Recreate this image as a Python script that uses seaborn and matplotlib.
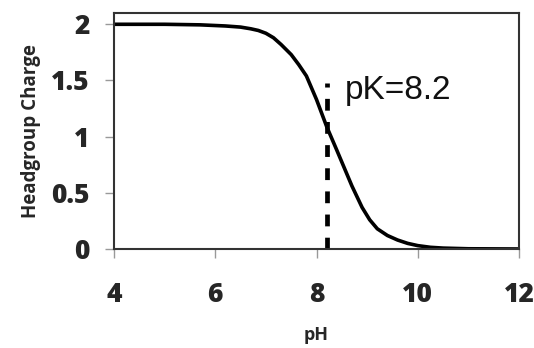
import matplotlib
matplotlib.use("Agg")
import matplotlib.pyplot as plt
import seaborn as sns
import pandas as pd

# titration curve
ph = [4.0, 5.0, 5.7, 6.2, 6.5, 6.7, 6.85, 7.0, 7.15, 7.3, 7.5, 7.65, 7.8,
      8.0, 8.2, 8.4, 8.55, 8.7, 8.9, 9.05, 9.2, 9.4, 9.6, 9.8, 10.0, 10.25,
      10.5, 11.0, 12.0]
charge = [2.0, 2.0, 1.995, 1.985, 1.975, 1.96, 1.945, 1.92, 1.88, 1.82,
          1.73, 1.64, 1.54, 1.33, 1.09, 0.88, 0.72, 0.56, 0.37, 0.26, 0.18,
          0.12, 0.08, 0.05, 0.03, 0.015, 0.008, 0.002, 0.0]
pk = 8.2
pk_line_top = 1.48
pk_label = "pK=8.2"

x_ticks = [4, 6, 8, 10, 12]
y_ticks = [0, 0.5, 1, 1.5, 2]
y_tick_labels = ["0", "0.5", "1", "1.5", "2"]

df = pd.DataFrame({"pH": ph, "Headgroup Charge": charge})

sns.set_theme(style="white")
plt.rcParams['font.family'] = ['Open Sans', 'DejaVu Sans']

fig = plt.figure(figsize=(5.34, 3.48), dpi=100)
ax = fig.add_axes([0.2135, 0.2845, 0.7585, 0.678])

sns.lineplot(data=df, x="pH", y="Headgroup Charge", color="black",
             linewidth=2.6, ax=ax)
ax.plot([pk, pk], [0, pk_line_top], color="black", linewidth=3.4,
        linestyle=(0, (2.5, 2.4)), solid_capstyle="butt")
ax.text(8.55, 1.41, pk_label, fontsize=24, family=["Liberation Sans"],
        va="center", ha="left", color="#111111")

ax.set_xlim(4, 12)
ax.set_ylim(0, 2.1)
ax.set_xticks(x_ticks)
ax.set_xticklabels([str(t) for t in x_ticks], fontsize=19, fontweight=800)
ax.set_yticks(y_ticks)
ax.set_yticklabels(y_tick_labels, fontsize=19, fontweight=800)
ax.tick_params(axis="both", direction="out", length=6.5, width=1,
               color="#999999", bottom=True, left=True)
ax.tick_params(axis="x", pad=17)
ax.tick_params(axis="y", pad=11)

for s in ax.spines.values():
    s.set_color("#333333")
    s.set_linewidth(1.5)

ax.set_xlabel("pH", fontsize=13, fontweight="bold", labelpad=13)
ax.set_ylabel("Headgroup Charge", fontsize=13.5, fontweight="bold",
              labelpad=7)

fig.savefig("out.png", dpi=100)
